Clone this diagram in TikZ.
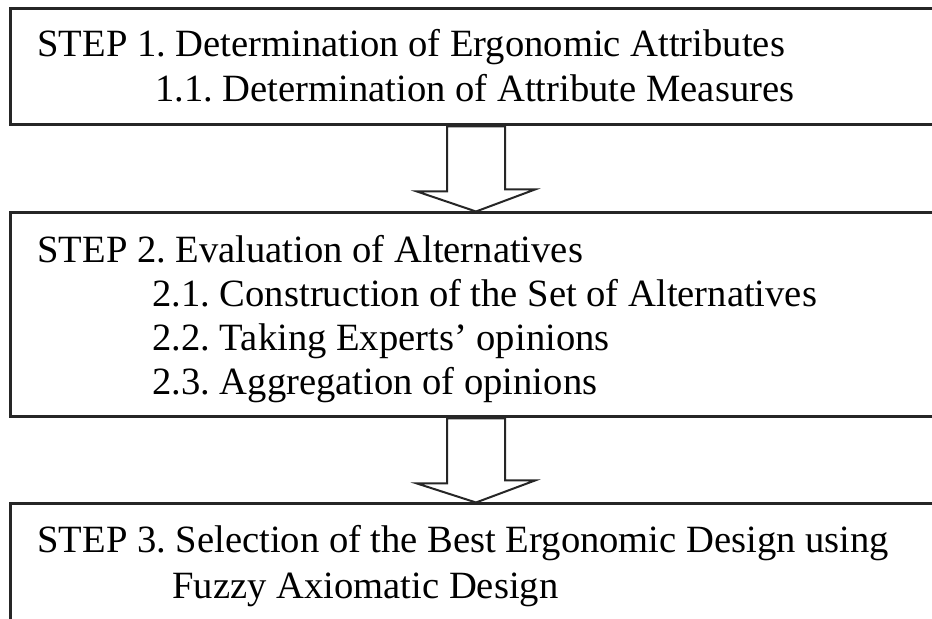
\documentclass[tikz,border=0pt]{standalone}
\usepackage{fontspec}
\setmainfont{Liberation Serif}
\usetikzlibrary{calc}
\frenchspacing

\begin{document}
\begin{tikzpicture}[x=0.5pt, y=-0.5pt,
  every node/.style={font=\fontsize{19.3}{23}\selectfont},
  stepbox/.style={draw=black!85, line width=1.5pt, minimum width=466pt, inner sep=0pt},
  steptext/.style={anchor=base west, inner sep=0pt},
  hollowarrow/.style={draw=black!85, line width=1pt, fill=white, line join=miter}]
  \useasboundingbox (0,0) rectangle (932,619);
  \clip (0,0) rectangle (932,619);
  % boxes
  \node[stepbox, minimum height=58pt] (step1) at (476,67) {};
  \node[stepbox, minimum height=102pt] (step2) at (476,315) {};
  \node[stepbox, minimum height=68pt] (step3) at (476,572) {};
  % step 1
  \node[steptext] (t1) at (37,57) {STEP 1. Determination of Ergonomic Attributes};
  \node[steptext] (t11) at (155,102) {1.1. Determination of Attribute Measures};
  % step 2
  \node[steptext] (t2) at (37,263) {STEP 2. Evaluation of Alternatives};
  \node[steptext] (t21) at (152,307) {2.1. Construction of the Set of Alternatives};
  \node[steptext] (t22) at (152,351) {2.2. Taking Experts' opinions};
  \node[steptext] (t23) at (152,395) {2.3. Aggregation of opinions};
  % step 3
  \node[steptext] (t3) at (37,553) {STEP 3. Selection of the Best Ergonomic Design using};
  \node[steptext] (t31) at (172,599) {Fuzzy Axiomatic Design};
  % block arrows
  \draw[hollowarrow] ($(step1.south)+(-29,0)$) -- ++(0,65) -- ++(-30,0) -- (step2.north)
    -- ++(59,-22) -- ++(-30,0) -- ($(step1.south)+(29,0)$) -- cycle;
  \draw[hollowarrow] ($(step2.south)+(-29,0)$) -- ++(0,65) -- ++(-30,0) -- (step3.north)
    -- ++(59,-22) -- ++(-30,0) -- ($(step2.south)+(29,0)$) -- cycle;
\end{tikzpicture}
\end{document}
